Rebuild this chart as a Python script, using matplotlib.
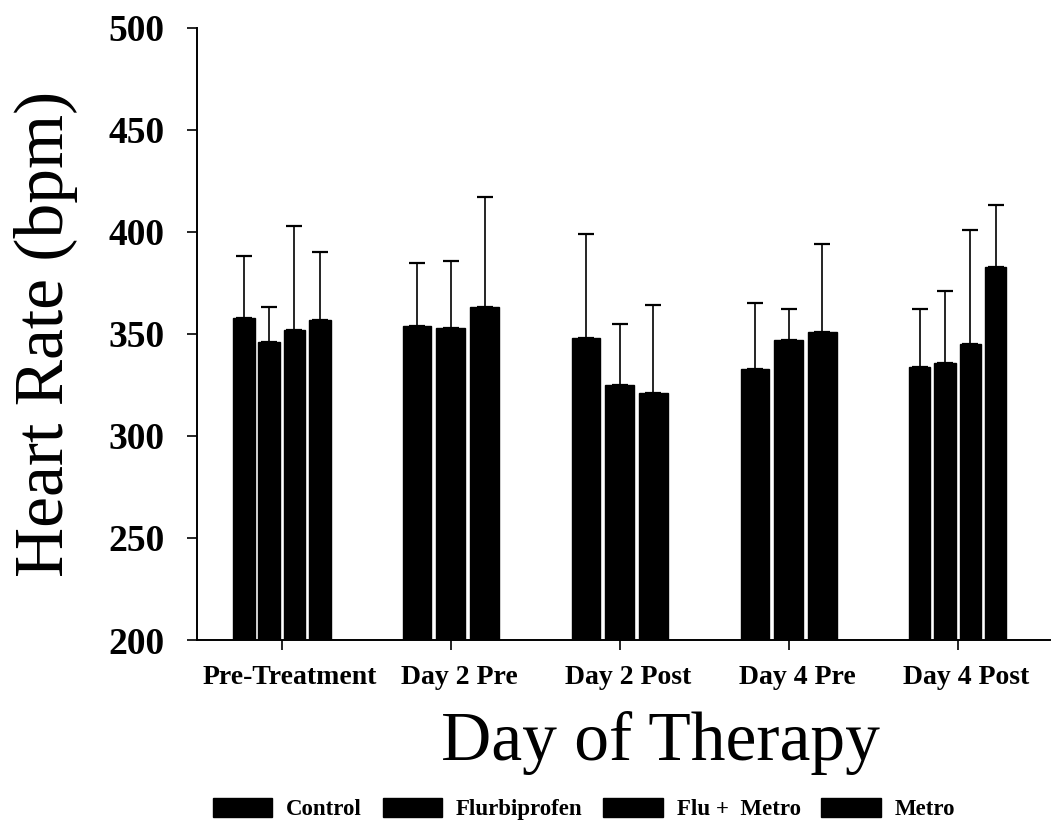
import matplotlib
matplotlib.use("Agg")
import matplotlib.pyplot as plt
from matplotlib.patches import Patch

categories = ["Pre-Treatment", "Day 2 Pre", "Day 2 Post", "Day 4 Pre", "Day 4 Post"]
series = ["Control", "Flurbiprofen", "Flu +  Metro", "Metro"]
# per-group means (None = not shown)
control      = [358, 354, 348, 333, 334]
flurbiprofen = [346, 353, 325, 347, 336]
flu_metro    = [352, 363, 321, 351, 345]
metro        = [357, None, None, None, 383]
# upper error bars
control_err      = [30, 31, 51, 32, 28]
flurbiprofen_err = [17, 33, 30, 15, 35]
flu_metro_err    = [51, 54, 43, 43, 56]
metro_err        = [33, None, None, None, 30]

values = [control, flurbiprofen, flu_metro, metro]
errors = [control_err, flurbiprofen_err, flu_metro_err, metro_err]

plt.rcParams['font.family'] = ['Liberation Serif', 'DejaVu Serif']
fig = plt.figure(figsize=(10.58, 8.22), dpi=100)
ax = fig.add_axes([0.186, 0.2214, 0.806, 0.7446])

group_w = 0.6
for gi, cat in enumerate(categories):
    present = [(si, values[si][gi], errors[si][gi]) for si in range(len(series))
               if values[si][gi] is not None]
    n = len(present)
    w = group_w / n
    for k, (si, v, e) in enumerate(present):
        x = gi - group_w / 2 + w * (k + 0.5)
        ax.bar(x, v - 200, bottom=200, width=w * 0.85, color='black',
               edgecolor='black', zorder=2)
        ax.errorbar(x, v, yerr=[[0], [e]], fmt='none', ecolor='black', elinewidth=1.2,
                    capsize=6, capthick=1.6, zorder=3)

ax.set_ylim(200, 500)
ax.set_xlim(-0.503, 4.544)
ax.set_yticks([200, 250, 300, 350, 400, 450, 500])
# major ticks (marks only) at group centres; labels on minor ticks slightly to the right
ax.set_xticks(range(len(categories)))
ax.set_xticklabels([])
ax.set_xticks([i + 0.05 for i in range(len(categories))], minor=True)
ax.set_xticklabels(categories, minor=True, fontsize=20, fontweight='bold')
ax.tick_params(axis='x', which='minor', length=0, pad=18)
for t in ax.get_yticklabels():
    t.set_fontsize(27)
    t.set_fontweight('bold')
ax.tick_params(axis='y', direction='out', length=7, width=1.2, pad=16)
ax.tick_params(axis='x', which='major', direction='out', length=7, width=1.2)
ax.spines['top'].set_visible(False)
ax.spines['right'].set_visible(False)
ax.spines['left'].set_linewidth(1.4)
ax.spines['bottom'].set_linewidth(1.4)

fig.text(46 / 1058, 0.5 * (0.2214 + 0.966), "Heart Rate (bpm)", rotation=90,
         ha='center', va='center', fontsize=50)
fig.text(660 / 1058, (822 - 760) / 822, "Day of Therapy", ha='center', va='baseline',
         fontsize=50)

handles = [Patch(facecolor='black', edgecolor='black', label=s) for s in series]
fig.legend(handles=handles, loc='center', bbox_to_anchor=(584 / 1058, (822 - 809) / 822),
           ncol=4, frameon=False, prop={'size': 16.5, 'weight': 'bold'},
           handlelength=2.6, handleheight=0.95, columnspacing=0.9, handletextpad=0.6,
           borderpad=0.0)

fig.savefig("out.png", dpi=100, facecolor='white')
